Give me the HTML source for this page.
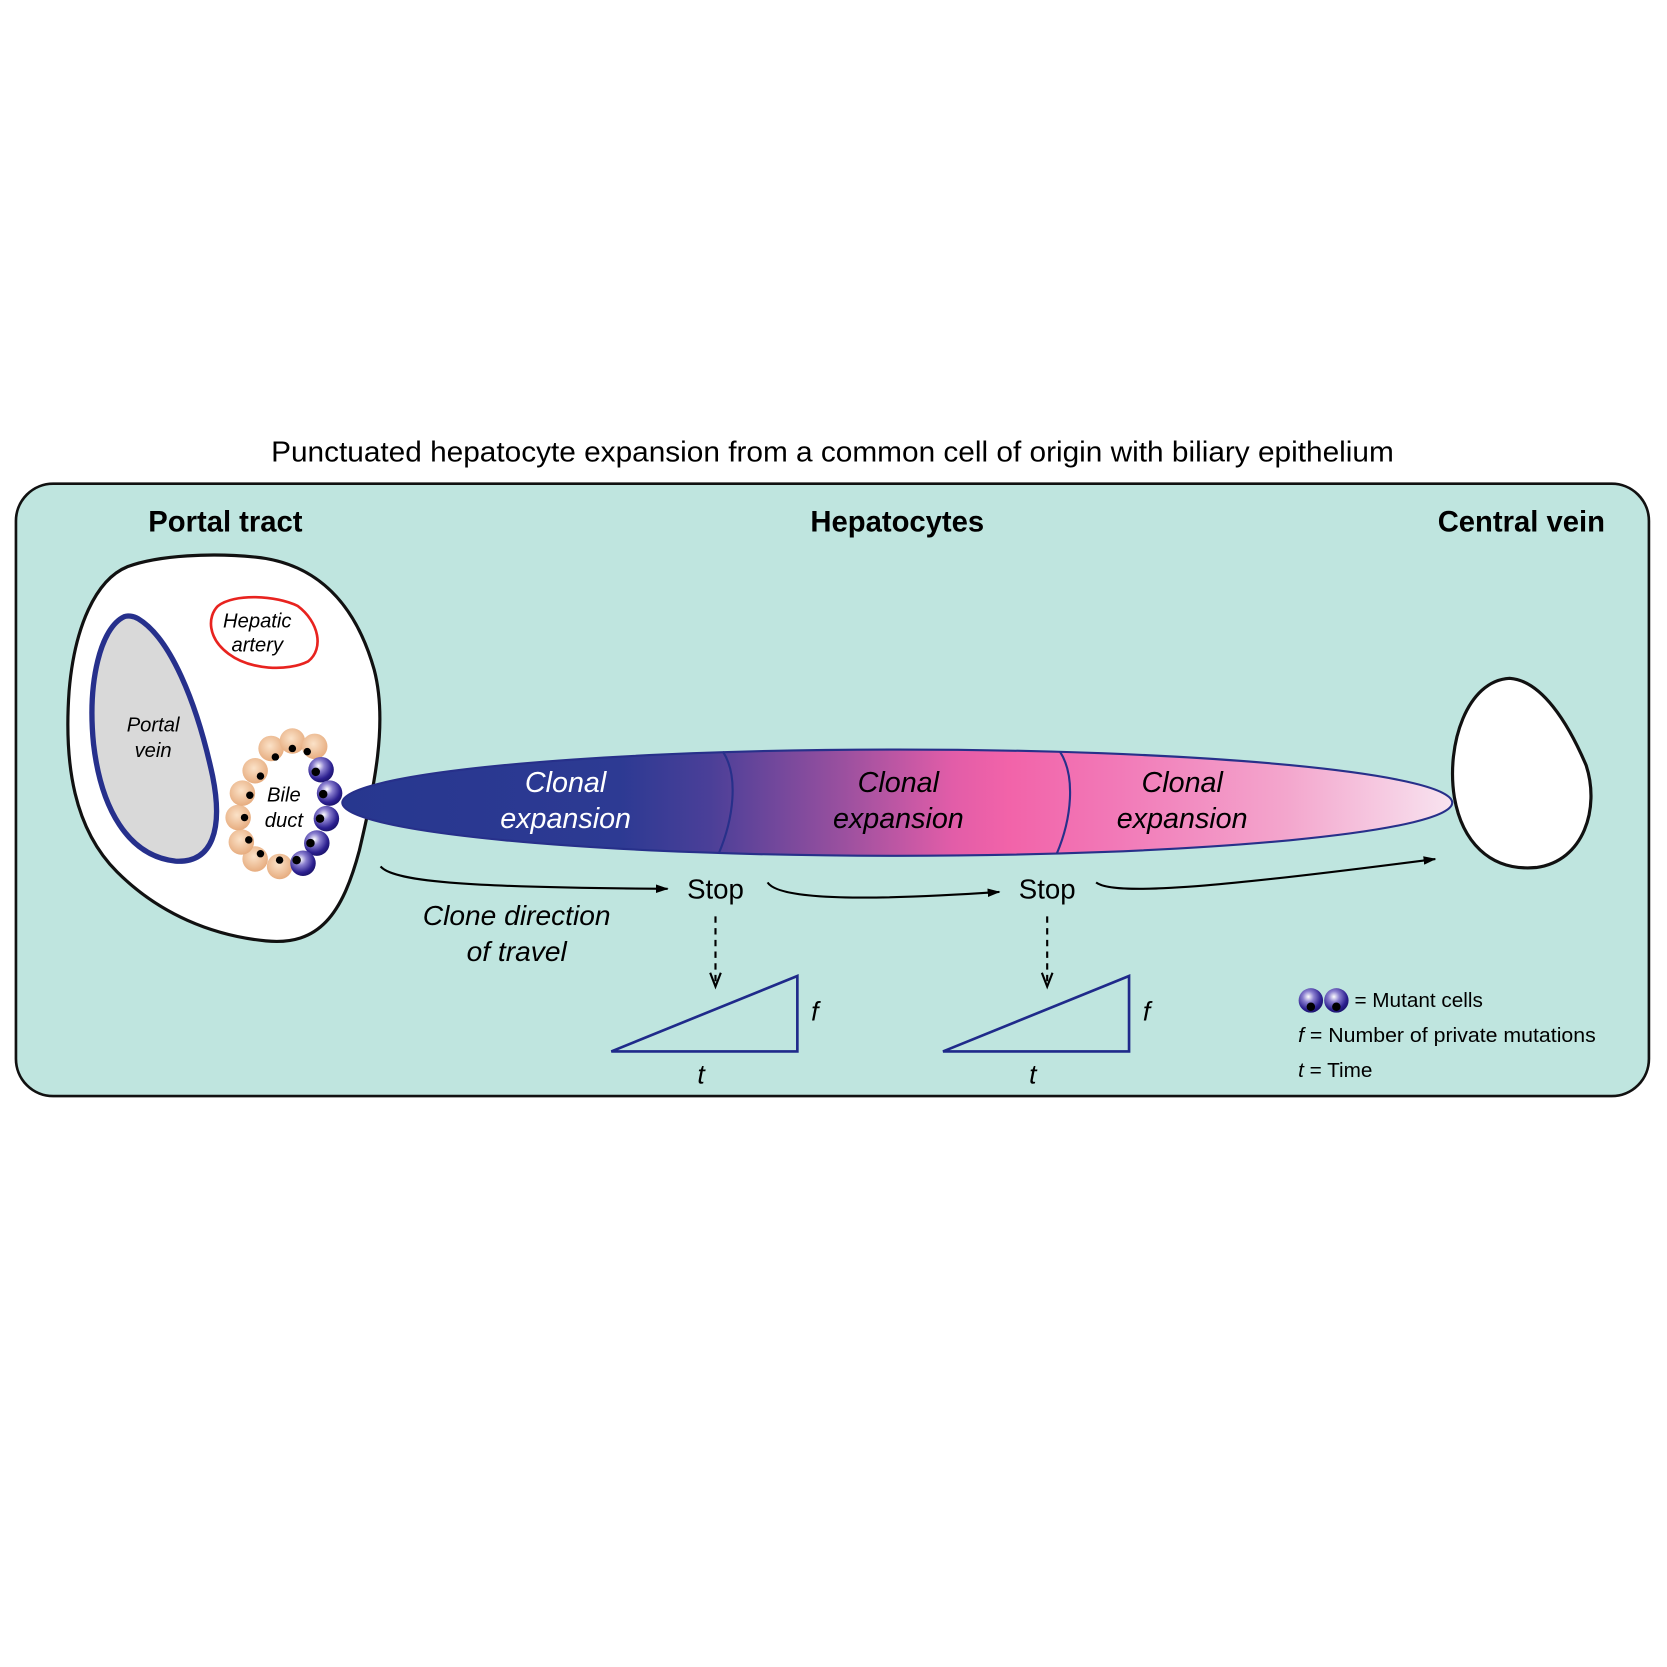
<!DOCTYPE html>
<html><head><meta charset="utf-8"><style>
html,body{margin:0;padding:0;background:#fff}
svg{display:block;font-family:"Liberation Sans",Arial,sans-serif}
</style></head><body>
<svg width="1667" height="1667" viewBox="0 0 1568 1568">
<defs>
<linearGradient id="clone" x1="322" x2="1367" y1="0" y2="0" gradientUnits="userSpaceOnUse">
<stop offset="0" stop-color="#27378f"/>
<stop offset="0.25" stop-color="#2d3a93"/>
<stop offset="0.33" stop-color="#4a3f98"/>
<stop offset="0.45" stop-color="#9a509f"/>
<stop offset="0.55" stop-color="#e25da8"/>
<stop offset="0.6" stop-color="#f263a9"/>
<stop offset="0.7" stop-color="#f27ab8"/>
<stop offset="0.85" stop-color="#f3a6cd"/>
<stop offset="1" stop-color="#f8e4f0"/>
</linearGradient>
<radialGradient id="mut" cx="0.4" cy="0.35" r="0.65">
<stop offset="0" stop-color="#ffffff"/>
<stop offset="0.35" stop-color="#8a7fcf"/>
<stop offset="0.8" stop-color="#2c2090"/>
<stop offset="1" stop-color="#1d1570"/>
</radialGradient>
<radialGradient id="ora" cx="0.45" cy="0.4" r="0.65">
<stop offset="0" stop-color="#fbe2c8"/>
<stop offset="1" stop-color="#e5a879"/>
</radialGradient>
<marker id="ah" markerWidth="12" markerHeight="8" refX="11" refY="4" orient="auto" markerUnits="userSpaceOnUse"><path d="M0,0 L12,4 L0,8 Z" fill="#000"/></marker>
</defs>

<text x="783" y="434" text-anchor="middle" font-size="27" textLength="1056" lengthAdjust="spacingAndGlyphs">Punctuated hepatocyte expansion from a common cell of origin with biliary epithelium</text>

<rect x="15" y="455" width="1536" height="576" rx="35" fill="#bfe5df" stroke="#111" stroke-width="2.5"/>

<text x="212" y="500" text-anchor="middle" font-size="27.5" font-weight="bold">Portal tract</text>
<text x="844" y="500" text-anchor="middle" font-size="27.5" font-weight="bold">Hepatocytes</text>
<text x="1431" y="500" text-anchor="middle" font-size="27.5" font-weight="bold">Central vein</text>

<path d="M120,533 C150,522 200,520 240,524 C300,530 335,570 352,630 C365,680 352,740 338,800 C322,860 300,890 250,885 C200,880 150,860 110,820 C70,780 60,720 65,650 C70,590 90,545 120,533 Z" fill="#fff" stroke="#111" stroke-width="3"/>

<path d="M117,580 C95,590 82,640 88,700 C95,760 120,805 165,810 C200,812 210,780 200,730 C185,660 160,600 130,582 C125,579 120,579 117,580 Z" fill="#d9d9d9" stroke="#26308c" stroke-width="5"/>
<text x="144" y="688" text-anchor="middle" font-size="19" font-style="italic">Portal</text>
<text x="144" y="712" text-anchor="middle" font-size="19" font-style="italic">vein</text>

<path d="M205,570 C220,558 260,560 280,570 C300,585 305,610 290,622 C270,632 235,630 215,615 C195,600 195,580 205,570 Z" fill="#fff" stroke="#e8231f" stroke-width="2.5"/>
<text x="242" y="590" text-anchor="middle" font-size="19" font-style="italic">Hepatic</text>
<text x="242" y="613" text-anchor="middle" font-size="19" font-style="italic">artery</text>

<g>
<g fill="url(#ora)">
<circle cx="263" cy="815" r="12"/><circle cx="240" cy="808" r="12"/><circle cx="227" cy="792" r="12"/><circle cx="224" cy="769" r="12"/><circle cx="228" cy="746" r="12"/><circle cx="240" cy="725" r="12"/><circle cx="255" cy="704" r="12"/><circle cx="275" cy="697" r="12"/><circle cx="296" cy="702" r="12"/>
</g>
<g fill="url(#mut)">
<circle cx="302" cy="724" r="12"/><circle cx="310" cy="746" r="12"/><circle cx="307" cy="770" r="12"/><circle cx="298" cy="793" r="12"/><circle cx="285" cy="812" r="12"/>
</g>
<g fill="#000">
<circle cx="263" cy="809" r="3.5"/><circle cx="245" cy="803" r="3.5"/><circle cx="234" cy="790" r="3.5"/><circle cx="230" cy="769" r="3.5"/><circle cx="235" cy="748" r="3.5"/><circle cx="245" cy="730" r="3.5"/><circle cx="259" cy="712" r="3.5"/><circle cx="275" cy="704" r="3.5"/><circle cx="289" cy="707" r="3.5"/>
<circle cx="297" cy="726" r="4"/><circle cx="304" cy="747" r="4"/><circle cx="301" cy="770" r="4"/><circle cx="292" cy="793" r="4"/><circle cx="279" cy="809" r="4"/>
</g>
<text x="267" y="754" text-anchor="middle" font-size="19" font-style="italic">Bile</text>
<text x="267" y="778" text-anchor="middle" font-size="19" font-style="italic">duct</text>
</g>

<ellipse cx="844" cy="755" rx="522" ry="50" fill="url(#clone)" stroke="#27308a" stroke-width="2"/>
<path d="M680,707 C695,730 690,770 676,803" fill="none" stroke="#27308a" stroke-width="2"/>
<path d="M997,707 C1012,730 1008,770 994,803" fill="none" stroke="#27308a" stroke-width="2"/>
<g font-size="27" font-style="italic" text-anchor="middle">
<text x="532" y="745" fill="#fff">Clonal</text>
<text x="532" y="779" fill="#fff">expansion</text>
<text x="845" y="745">Clonal</text>
<text x="845" y="779">expansion</text>
<text x="1112" y="745">Clonal</text>
<text x="1112" y="779">expansion</text>
</g>

<path d="M1420,638 C1450,640 1475,680 1492,720 C1505,760 1490,810 1445,816 C1400,820 1375,790 1368,750 C1360,700 1380,640 1420,638 Z" fill="#fff" stroke="#111" stroke-width="3"/>

<g fill="none" stroke="#000" stroke-width="2">
<path d="M358,815 C370,830 450,835 628,836" marker-end="url(#ah)"/>
<path d="M722,830 C735,850 850,845 940,839" marker-end="url(#ah)"/>
<path d="M1031,830 C1050,845 1180,830 1350,808" marker-end="url(#ah)"/>
<path d="M673,862 L673,926" stroke-dasharray="6,5"/>
<path d="M985,862 L985,926" stroke-dasharray="6,5"/>
</g>
<path d="M668,915 L673,928 L678,915" fill="none" stroke="#000" stroke-width="2"/>
<path d="M980,915 L985,928 L990,915" fill="none" stroke="#000" stroke-width="2"/>

<text x="673" y="845" text-anchor="middle" font-size="26">Stop</text>
<text x="985" y="845" text-anchor="middle" font-size="26">Stop</text>
<text x="486" y="870" text-anchor="middle" font-size="26.5" font-style="italic">Clone direction</text>
<text x="486" y="904" text-anchor="middle" font-size="26.5" font-style="italic">of travel</text>

<path d="M575,989 L750,918 L750,989 Z" fill="none" stroke="#1f2a8a" stroke-width="2.5"/>
<path d="M887,989 L1062,918 L1062,989 Z" fill="none" stroke="#1f2a8a" stroke-width="2.5"/>
<g font-size="25" font-style="italic">
<text x="763" y="960">f</text>
<text x="656" y="1019">t</text>
<text x="1075" y="960">f</text>
<text x="968" y="1019">t</text>
</g>

<g>
<circle cx="1233" cy="941" r="11.5" fill="url(#mut)"/><circle cx="1233" cy="947" r="4" fill="#000"/>
<circle cx="1257" cy="941" r="11.5" fill="url(#mut)"/><circle cx="1257" cy="947" r="4" fill="#000"/>
<text x="1274" y="947" font-size="19.5">= Mutant cells</text>
<text x="1221" y="980" font-size="19.5" textLength="280" lengthAdjust="spacingAndGlyphs"><tspan font-style="italic">f</tspan> = Number of private mutations</text>
<text x="1221" y="1013" font-size="19.5"><tspan font-style="italic">t</tspan> = Time</text>
</g>
</svg>
</body></html>
